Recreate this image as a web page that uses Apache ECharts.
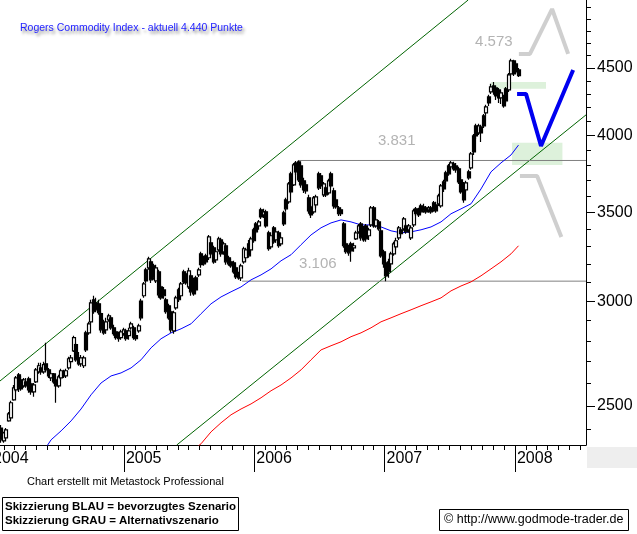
<!DOCTYPE html>
<html><head><meta charset="utf-8">
<script src="https://cdn.jsdelivr.net/npm/echarts@6/dist/echarts.min.js"></script>
<style>html,body{margin:0;padding:0;background:#fff;}#c{width:637px;height:534px;}</style>
</head><body><div id="c"></div>
<script>
// ---------- data ----------
const firstWeek = Date.UTC(2004, 0, 23);          // first weekly candle
// weekly candles: [open, close, low, high]
const candles = [
[2406,2357,2345,2419],[2353,2386,2345,2390],[2365,2398,2353,2406],[2436,2466,2432,2474],
[2449,2514,2440,2523],[2527,2580,2523,2593],[2571,2625,2562,2634],[2639,2580,2562,2648],
[2616,2575,2567,2634],[2589,2616,2580,2625],[2607,2589,2580,2625],[2621,2571,2558,2630],
[2598,2562,2549,2607],[2562,2593,2540,2602],[2607,2662,2602,2671],[2653,2681,2644,2695],
[2671,2653,2639,2695],[2653,2686,2644,2700],[2690,2662,2653,2791],[2662,2634,2625,2671],
[2625,2644,2611,2653],[2644,2607,2598,2648],[2616,2589,2514,2625],[2589,2630,2580,2639],
[2625,2658,2616,2667],[2653,2634,2625,2662],[2634,2658,2625,2667],[2671,2714,2662,2723],
[2700,2718,2690,2732],[2751,2815,2746,2825],[2781,2709,2700,2791],[2718,2690,2681,2746],
[2690,2718,2676,2732],[2681,2718,2671,2728],[2839,2756,2746,2849],[2839,2884,2830,2894],
[2894,2991,2884,3007],[3007,2945,2935,3028],[2991,2955,2945,3017],[2986,2940,2930,3007],
[2935,2854,2839,2945],[2879,2839,2830,2904],[2854,2894,2835,2914],[2904,2924,2894,2935],
[2914,2864,2854,2924],[2864,2835,2825,2879],[2844,2815,2805,2854],[2835,2810,2795,2844],
[2815,2844,2805,2854],[2835,2854,2825,2864],[2849,2810,2800,2859],[2825,2849,2805,2864],
[2864,2884,2854,2894],[2864,2815,2805,2874],[2825,2810,2800,2839],[2849,2874,2839,2884],
[3000,2914,2900,3012],[3028,3091,3017,3102],[3168,3107,3096,3179],[3179,3229,3168,3240],
[3212,3113,3096,3223],[3190,3124,3113,3201],[3107,3179,3096,3196],[3157,3033,3017,3168],
[3075,3017,3007,3086],[3059,3028,3012,3075],[3007,2945,2935,3017],[2976,2914,2904,2986],
[2945,2854,2839,2955],[2849,2940,2835,2950],[2965,3017,2955,3028],[3059,3007,2996,3070],
[3028,3091,3022,3102],[3157,3102,3091,3168],[3146,3096,3086,3157],[3075,3162,3064,3179],
[3135,3049,3028,3146],[3113,3038,3028,3124],[3124,3059,3049,3135],[3140,3168,3129,3179],
[3257,3196,3179,3269],[3235,3201,3190,3246],[3246,3212,3201,3257],[3235,3355,3223,3366],
[3320,3257,3246,3349],[3291,3212,3201,3303],[3223,3269,3207,3280],[3280,3343,3269,3355],
[3337,3257,3240,3349],[3269,3314,3252,3326],[3303,3212,3196,3314],[3235,3201,3190,3246],
[3212,3190,3179,3229],[3207,3157,3146,3218],[3179,3129,3118,3190],[3146,3124,3113,3157],
[3124,3190,3107,3201],[3212,3286,3201,3297],[3235,3280,3212,3291],[3314,3246,3235,3337],
[3280,3343,3269,3355],[3396,3332,3320,3408],[3431,3384,3373,3443],[3419,3443,3396,3455],
[3516,3473,3461,3528],[3485,3504,3467,3522],[3504,3419,3408,3516],[3378,3286,3274,3390],
[3297,3361,3286,3373],[3408,3326,3314,3419],[3337,3384,3320,3402],[3378,3303,3291,3390],
[3314,3349,3303,3361],[3498,3431,3419,3510],[3577,3522,3504,3590],[3565,3678,3553,3691],
[3743,3627,3615,3756],[3672,3802,3665,3815],[3815,3756,3736,3828],[3822,3704,3691,3831],
[3795,3672,3653,3815],[3698,3640,3621,3717],[3672,3634,3615,3691],[3590,3510,3492,3609],
[3534,3485,3467,3546],[3504,3590,3492,3602],[3546,3596,3528,3609],[3743,3653,3640,3756],
[3730,3665,3646,3749],[3609,3678,3596,3691],[3653,3609,3596,3665],[3621,3698,3609,3711],
[3743,3665,3653,3756],[3634,3540,3522,3653],[3577,3534,3522,3590],[3528,3492,3479,3540],
[3516,3492,3479,3528],[3431,3303,3291,3443],[3314,3269,3257,3326],[3291,3263,3246,3309],
[3314,3274,3212,3326],[3291,3303,3269,3320],[3343,3378,3337,3390],[3384,3419,3373,3431],
[3431,3349,3332,3443],[3408,3337,3326,3419],[3419,3343,3326,3431],[3361,3396,3337,3408],
[3425,3528,3413,3540],[3528,3419,3408,3540],[3419,3455,3408,3467],[3443,3402,3390,3455],
[3390,3246,3235,3402],[3269,3201,3179,3280],[3207,3135,3106,3218],[3212,3157,3124,3229],
[3201,3257,3179,3269],[3257,3314,3246,3326],[3297,3332,3280,3349],[3349,3408,3337,3419],
[3396,3373,3361,3402],[3402,3461,3390,3473],[3419,3384,3373,3431],[3396,3419,3378,3431],
[3349,3408,3337,3419],[3425,3510,3413,3522],[3522,3492,3479,3534],[3516,3485,3473,3528],
[3540,3504,3492,3553],[3534,3510,3498,3553],[3528,3504,3492,3540],[3516,3528,3498,3540],
[3528,3504,3492,3540],[3559,3516,3504,3571],[3546,3510,3498,3565],[3553,3602,3540,3615],
[3540,3665,3528,3678],[3691,3646,3627,3704],[3750,3698,3678,3763],[3795,3743,3730,3808],
[3789,3815,3769,3828],[3808,3776,3763,3822],[3795,3769,3750,3815],[3776,3691,3678,3789],
[3704,3627,3615,3724],[3678,3577,3559,3691],[3640,3685,3627,3698],[3756,3717,3704,3769],
[3782,3875,3769,3888],[3998,3888,3868,4012],[4068,3998,3977,4083],[4019,4068,4005,4083],
[4061,4019,3956,4076],[4140,4068,4054,4154],[4161,4205,4140,4220],[4279,4234,4212,4294],
[4316,4354,4301,4377],[4361,4331,4294,4392],[4346,4286,4256,4361],[4331,4271,4234,4346],
[4271,4309,4227,4324],[4271,4212,4198,4294],[4339,4249,4234,4354],[4331,4446,4316,4461],
[4453,4555,4438,4573],[4555,4453,4438,4565],[4531,4469,4453,4547],[4484,4440,4430,4500]
];
// moving averages, sampled every 4 weeks (week index from ...Start), last value at the last week
const blueMAStart = 16;
const blueMA = [2296,2357,2394,2436,2487,2549,2602,2634,2648,2671,
  2709,2766,2810,2839,2859,2884,2935,2986,3022,3049,
  3075,3113,3140,3173,3218,3252,3309,3366,3408,3437,
  3455,3443,3425,3425,3413,3390,3378,3384,3396,3413,
  3443,3492,3522,3553,3646,3756,3815,3868,3935];
const redMAStart = 76;
const redMA = [2308,2341,2390,2428,2462,2487,2509,2536,2567,2593,
  2625,2662,2709,2756,2776,2795,2820,2839,2864,2894,
  2914,2935,2955,2976,2996,3017,3054,3080,3102,3135,
  3173,3212,3257,3303];
// trend channel
const chanUpperDates = ['2004-01-20','2007-08-23'];
const chanUpperVals = [2611, 5064];
const chanLowerDates = ['2005-05-29','2008-07-18'];
const chanLowerVals = [2336, 4147];
// horizontal levels
const levelStartDates = ['2006-05-03','2005-11-28'];
const levelVals = [3831, 3106];
// annotation texts
const noteDates = ['2007-11-03','2007-02-04','2006-06-28'];
const noteVals = [4708, 3964, 3201];
const noteTexts = ['4.573','3.831','3.106'];
// scenario sketches
const blueSketchDates = ['2008-01-07','2008-02-01','2008-03-14','2008-06-12'];
const blueSketchVals = [4301, 4301, 3929, 4484];
const grayUpDates = ['2008-01-12','2008-02-12','2008-04-14','2008-05-29'];
const grayUpVals = [4611, 4611, 4985, 4611];
const grayDownDates = ['2008-01-15','2008-03-03','2008-05-10'];
const grayDownVals = [3729, 3729, 3354];
// green zones
const zoneDates = [['2007-10-26','2008-03-28'],['2007-12-24','2008-05-13']];
const zoneVals = [[4339, 4392],[3801, 3951]];
// axes
const xMinDate = '2004-01-20', xMaxDate = '2008-07-18';
const yMinVal = 2336, yMaxVal = 5064;
const yLabelValues = [2500, 3000, 3500, 4000, 4500];
const yearLabels = [2005, 2006, 2007, 2008];

// ---------- build ----------
const DAY = 864e5;
const FONT = '"Liberation Sans", Arial, sans-serif';
const T = s => { const p = s.split('-').map(Number); return Date.UTC(p[0], p[1]-1, p[2]); };
const L = v => Math.log10(v);
const xMin = T(xMinDate), xMax = T(xMaxDate);
const weeks = candles.map((_, i) => firstWeek + i * 7 * DAY);
const maPoints = (start, vals) => vals.map((v, k) => {
  const idx = k === vals.length - 1 ? candles.length - 1 : start + 4 * k;
  return [weeks[idx], L(v)];
});
const yTickValues = []; for (let v = 2400; v <= 5000; v += 100) yTickValues.push(v);
const monthTicks = [];
for (let y = 2004; y <= 2008; y++) for (let m = 0; m < 12; m++) {
  const t = Date.UTC(y, m, 1); if (t > xMin && t < xMax) monthTicks.push(t);
}
const yearTicks = yearLabels.map(y => Date.UTC(y, 0, 1));
const pts = (ds, vs) => ds.map((d, i) => [T(d), L(vs[i])]);
const simpleLine = (data, color, width, z) => ({
  type: 'line', data, symbol: 'none', silent: true, animation: false, z: z || 2,
  lineStyle: { color, width }, clip: true
});

const chart = echarts.init(document.getElementById('c'), null, { renderer: 'canvas' });
chart.setOption({
  animation: false,
  backgroundColor: '#fff',
  textStyle: { fontFamily: FONT },
  grid: { left: 0, top: 0, width: 586, height: 445 },
  xAxis: [
    { type: 'value', min: xMin, max: xMax, position: 'bottom', scale: true,
      axisLine: { show: true, onZero: false, lineStyle: { color: '#000', width: 1 } },
      axisTick: { show: true, length: 5, customValues: monthTicks, lineStyle: { color: '#000' } },
      axisLabel: { show: false }, splitLine: { show: false } },
    { type: 'value', min: xMin, max: xMax, position: 'bottom', scale: true,
      axisLine: { show: false, onZero: false },
      axisTick: { show: true, length: 27, customValues: yearTicks, lineStyle: { color: '#000' } },
      axisLabel: { show: true, customValues: yearTicks, align: 'left', margin: 6, padding: [0, 0, 0, 2],
        formatter: v => String(new Date(v).getUTCFullYear()), color: '#000', fontSize: 16, fontFamily: FONT },
      splitLine: { show: false } }
  ],
  yAxis: [
    { type: 'value', position: 'right', min: L(yMinVal), max: L(yMaxVal), scale: true,
      axisLine: { show: true, onZero: false, lineStyle: { color: '#000', width: 1 } },
      axisTick: { show: true, length: 5, customValues: yTickValues.map(L), lineStyle: { color: '#000' } },
      axisLabel: { show: false }, splitLine: { show: false } },
    { type: 'value', position: 'right', min: L(yMinVal), max: L(yMaxVal), scale: true,
      axisLine: { show: false, onZero: false },
      axisTick: { show: true, length: 9, customValues: yLabelValues.map(L), lineStyle: { color: '#000' } },
      axisLabel: { show: true, customValues: yLabelValues.map(L), margin: 11,
        formatter: v => String(Math.round(Math.pow(10, v))), color: '#000', fontSize: 16, fontFamily: FONT },
      splitLine: { show: false } }
  ],
  series: [
    simpleLine(pts(chanUpperDates, chanUpperVals), '#006400', 1, 2),
    simpleLine(pts(chanLowerDates, chanLowerVals), '#006400', 1, 2),
    simpleLine([[T(levelStartDates[0]), L(levelVals[0])], [xMax, L(levelVals[0])]], '#808080', 1, 2),
    simpleLine([[T(levelStartDates[1]), L(levelVals[1])], [xMax, L(levelVals[1])]], '#808080', 1, 2),
    simpleLine(maPoints(redMAStart, redMA), '#ff0000', 1, 3),
    simpleLine(maPoints(blueMAStart, blueMA), '#0000ff', 1, 3),
    {
      type: 'candlestick', data: weeks.map((t, i) => [t, L(candles[i][0]), L(candles[i][1]), L(candles[i][2]), L(candles[i][3])]),
      barWidth: 3.5, silent: true, z: 4,
      itemStyle: { color: '#ffffff', color0: '#000000', borderColor: '#000000', borderColor0: '#000000', borderColorDoji: '#000000', borderWidth: 1.2 }
    },
    simpleLine(pts(grayUpDates, grayUpVals), '#cfcfcf', 4, 5),
    simpleLine(pts(grayDownDates, grayDownVals), '#cfcfcf', 4, 5),
    Object.assign(simpleLine(pts(blueSketchDates, blueSketchVals), '#0000f0', 4, 6), {
      markArea: { silent: true, itemStyle: { color: 'rgba(120,200,110,0.25)' },
        data: zoneDates.map((d, i) => [{ coord: [T(d[0]), L(zoneVals[i][1])] }, { coord: [T(d[1]), L(zoneVals[i][0])] }]) }
    }),
    {
      type: 'scatter', silent: true, z: 6, symbolSize: 1, itemStyle: { color: 'rgba(0,0,0,0)' },
      data: noteDates.map((d, i) => ({ name: noteTexts[i], value: [T(d), L(noteVals[i])] })),
      label: { show: true, position: 'inside', formatter: p => p.name, color: '#a0a0a0', fontSize: 15, fontFamily: FONT }
    }
  ],
  graphic: [
    { type: 'rect', silent: true, shape: { x: 587, y: 447, width: 50, height: 21 }, style: { fill: '#eeeeee' } },
    { type: 'text', silent: true, x: 20, y: 28, style: { text: 'Rogers Commodity Index - aktuell 4.440 Punkte',
      font: '10.5px ' + FONT, fill: '#2424ff', verticalAlign: 'middle',
      textShadowColor: 'rgba(0,0,0,0.45)', textShadowBlur: 3, textShadowOffsetX: 2, textShadowOffsetY: 3 } },
    { type: 'text', silent: true, x: -7, y: 451, style: { text: '2004', font: '16px ' + FONT, fill: '#000', verticalAlign: 'top' } },
    { type: 'text', silent: true, x: 27, y: 482, style: { text: 'Chart erstellt mit Metastock Professional', font: '11px ' + FONT, fill: '#000', verticalAlign: 'middle' } },
    { type: 'rect', silent: true, shape: { x: 2.5, y: 497.5, width: 236, height: 33 }, style: { fill: '#fff', stroke: '#000', lineWidth: 1 } },
    { type: 'text', silent: true, x: 5, y: 507, style: { text: 'Skizzierung BLAU = bevorzugtes Szenario', font: 'bold 11.5px ' + FONT, fill: '#000', verticalAlign: 'middle' } },
    { type: 'text', silent: true, x: 5, y: 521, style: { text: 'Skizzierung GRAU = Alternativszenario', font: 'bold 11.5px ' + FONT, fill: '#000', verticalAlign: 'middle' } },
    { type: 'rect', silent: true, shape: { x: 439.5, y: 509.5, width: 189, height: 21 }, style: { fill: '#fff', stroke: '#000', lineWidth: 1 } },
    { type: 'text', silent: true, x: 444, y: 520, style: { text: '\u00A9 http://www.godmode-trader.de', font: '12.5px ' + FONT, fill: '#000', verticalAlign: 'middle' } }
  ]
});
</script></body></html>
